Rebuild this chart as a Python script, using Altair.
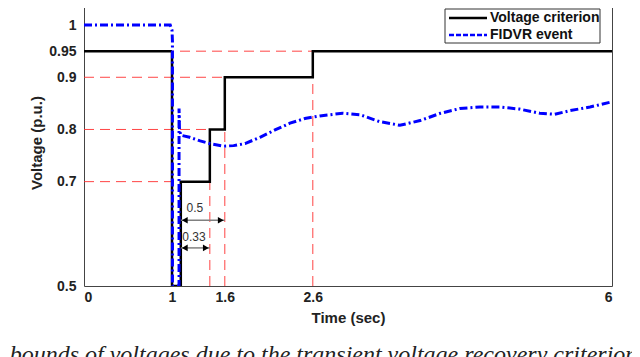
import altair as alt
import pandas as pd

# ---- data ----
crit_t = [0, 1.0, 1.0, 1.1, 1.1, 1.43, 1.43, 1.6, 1.6, 2.6, 2.6, 6.0]
crit_v = [0.95, 0.95, 0.5, 0.5, 0.7, 0.7, 0.8, 0.8, 0.9, 0.9, 0.95, 0.95]

fidvr_t = [0, 0.98, 1.0, 1.005, 1.005, 1.08, 1.08, 1.085, 1.1, 1.2, 1.32, 1.45, 1.59,
           1.7, 1.83, 2.0, 2.17, 2.34, 2.51, 2.68, 2.94, 3.14, 3.36, 3.59, 3.82,
           4.05, 4.27, 4.5, 4.73, 4.95, 5.18, 5.35, 5.52, 5.75, 6.0]
fidvr_v = [1.0, 1.0, 0.99, 0.97, 0.5, 0.5, 0.84, 0.80, 0.789, 0.785, 0.778, 0.772, 0.768,
           0.769, 0.773, 0.785, 0.799, 0.812, 0.821, 0.826, 0.831, 0.828, 0.815, 0.808, 0.817,
           0.831, 0.840, 0.843, 0.843, 0.839, 0.831, 0.829, 0.836, 0.843, 0.853]

series_names = ["Voltage criterion", "FIDVR event"]
series_colors = ["#000000", "#0000ff"]
series_dashes = [[1, 0], [8, 3, 2, 3]]
legend_dashes = [[1, 0], [5, 2]]

# red dashed guide lines
hguide_v = [0.7, 0.8, 0.9, 0.95]
hguide_end = [1.1, 1.43, 1.6, 2.6]
vguide_t = [1.43, 1.6, 2.6]
vguide_top = [0.8, 0.9, 0.95]

# duration annotations
arrow_start = [1.1, 1.1]
arrow_end = [1.6, 1.43]
arrow_y = [0.626, 0.573]
arrow_label = ["0.5", "0.33"]
arrow_label_t = [1.26, 1.25]
arrow_label_y = [0.649, 0.594]

x_ticks = [0, 1, 1.6, 2.6, 6]
y_ticks = [0.5, 0.7, 0.8, 0.9, 0.95, 1]

caption = "y bounds of voltages due to the transient voltage recovery criterion"

# ---- tables ----
crit_df = pd.DataFrame({"t": crit_t, "v": crit_v, "i": range(len(crit_t)),
                        "series": series_names[0]})
fidvr_df = pd.DataFrame({"t": fidvr_t, "v": fidvr_v, "i": range(len(fidvr_t)),
                         "series": series_names[1]})
h_df = pd.DataFrame({"v": hguide_v, "t0": [0] * len(hguide_v), "t1": hguide_end})
v_df = pd.DataFrame({"t": vguide_t, "v0": [0.5] * len(vguide_t), "v1": vguide_top})
arr_df = pd.DataFrame({"t0": arrow_start, "t1": arrow_end, "y": arrow_y})
lab_df = pd.DataFrame({"t": arrow_label_t, "y": arrow_label_y, "txt": arrow_label})

xs = alt.Scale(domain=[0, 6], nice=False)
ys = alt.Scale(domain=[0.5, 1.05], nice=False)

X = alt.X("t:Q", scale=xs, title="Time (sec)",
          axis=alt.Axis(values=x_ticks, labelExpr="datum.value + ''",
                        labelPadding=4, titlePadding=6))
Y = alt.Y("v:Q", scale=ys, title="Voltage (p.u.)",
          axis=alt.Axis(values=y_ticks, labelExpr="datum.value + ''",
                        labelPadding=8, titlePadding=4))

color = alt.Color("series:N", scale=alt.Scale(domain=series_names, range=series_colors),
                  legend=None)
dash = alt.StrokeDash("series:N", scale=alt.Scale(domain=series_names, range=series_dashes),
                      legend=None)

red = "#ff3030"

hlines = alt.Chart(h_df).mark_rule(color=red, strokeWidth=1, strokeDash=[10, 6],
                                   opacity=0.9).encode(
    x=alt.X("t0:Q", scale=xs), x2="t1:Q", y=alt.Y("v:Q", scale=ys))
vlines = alt.Chart(v_df).mark_rule(color=red, strokeWidth=1, strokeDash=[10, 6],
                                   opacity=0.9).encode(
    x=alt.X("t:Q", scale=xs), y=alt.Y("v0:Q", scale=ys), y2="v1:Q")

crit = alt.Chart(crit_df).mark_line(strokeWidth=2.5, clip=True).encode(
    x=X, y=Y, order="i:Q", color=color, strokeDash=dash)
fidvr = alt.Chart(fidvr_df).mark_line(strokeWidth=3, clip=True).encode(
    x=X, y=Y, order="i:Q", color=color, strokeDash=dash)

arr_line = alt.Chart(arr_df).mark_rule(color="#808080", strokeWidth=1.5).encode(
    x=alt.X("t0:Q", scale=xs), x2="t1:Q", y=alt.Y("y:Q", scale=ys))
arr_left = alt.Chart(arr_df).mark_point(shape="triangle-left", filled=True, color="black",
                                        size=45, opacity=1, xOffset=4).encode(
    x=alt.X("t0:Q", scale=xs), y=alt.Y("y:Q", scale=ys))
arr_right = alt.Chart(arr_df).mark_point(shape="triangle-right", filled=True, color="black",
                                         size=45, opacity=1, xOffset=-4).encode(
    x=alt.X("t1:Q", scale=xs), y=alt.Y("y:Q", scale=ys))
arr_text = alt.Chart(lab_df).mark_text(font="Liberation Sans", fontSize=12,
                                       color="#333333").encode(
    x=alt.X("t:Q", scale=xs), y=alt.Y("y:Q", scale=ys), text="txt:N")

# ---- legend box (top right, drawn in pixels of the plot area) ----
one = pd.DataFrame({"k": [0]})
leg_box = alt.Chart(one).mark_rect(fill="white", stroke="#333333", strokeWidth=1).encode(
    x=alt.value(361), x2=alt.value(516), y=alt.value(10), y2=alt.value(44))
leg_layers = [leg_box]
for k, name in enumerate(series_names):
    row_y = 19 + 17 * k
    df = pd.DataFrame({"series": [name]})
    leg_layers.append(alt.Chart(df).mark_rule(
        color=series_colors[k], strokeWidth=2.5, strokeDash=legend_dashes[k]).encode(
        x=alt.value(365), x2=alt.value(403), y=alt.value(row_y)))
    leg_layers.append(alt.Chart(df).mark_text(
        font="Liberation Sans", fontWeight="bold", fontSize=14, color="#111111",
        align="left", baseline="middle").encode(
        x=alt.value(406), y=alt.value(row_y), text="series:N"))

cap = alt.Chart(pd.DataFrame({"c": [caption]})).mark_text(
    font="Liberation Serif", fontStyle="italic", fontSize=24, color="#222222",
    align="left", baseline="alphabetic").encode(
    x=alt.value(-91), y=alt.value(363), text="c:N")

chart = alt.layer(hlines, vlines, crit, fidvr, arr_line, arr_left, arr_right, arr_text,
                  *leg_layers, cap).properties(
    width=528, height=287,
    autosize=alt.AutoSizeParams(type="none"),
    padding={"left": 76, "top": -9, "right": 20, "bottom": 71},
).configure_view(stroke="#444444", strokeWidth=1).configure_axis(
    domain=False, grid=False, ticks=False,
    labelFont="Liberation Sans", labelFontWeight="bold", labelFontSize=14,
    labelColor="#222222",
    titleFont="Liberation Sans", titleFontWeight="bold", titleFontSize=15,
    titleColor="#222222",
)

chart.save("out.html", embed_options={"renderer": "svg", "actions": False})
